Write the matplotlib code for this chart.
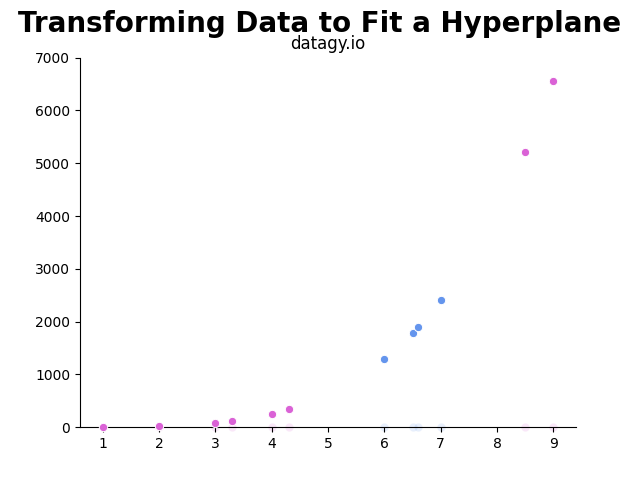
import numpy as np
import matplotlib.pyplot as plt

# class A (pink) and class B (blue)
x_a = [1, 2, 3, 3.3, 4, 4.3, 8.5, 9]
y_a = [1, 16, 81, 118.6, 256, 341.9, 5220.1, 6561]
x_b = [6, 6.5, 6.6, 7]
y_b = [1296, 1785.1, 1897.5, 2401]
# original positions before transform
orig_a = [0, 0, 0, 0, 0, 0, 0, 0]
orig_b = [0, 0, 0, 0]

pink = '#DA62D6'
blue = '#6495ED'

fig, ax = plt.subplots(figsize=(6.4, 4.8))

ax.scatter(x_a, orig_a, s=36, color=pink, alpha=0.15, edgecolor='white', lw=0.7, clip_on=False)
ax.scatter(x_b, orig_b, s=36, color=blue, alpha=0.15, edgecolor='white', lw=0.7, clip_on=False)
ax.scatter(x_a, y_a, s=36, color=pink, edgecolor='white', lw=0.7, clip_on=False, zorder=3)
ax.scatter(x_b, y_b, s=36, color=blue, edgecolor='white', lw=0.7, clip_on=False, zorder=3)

ax.set_ylim(0, 7000)
ax.set_xticks(np.arange(1, 10))
ax.spines['top'].set_visible(False)
ax.spines['right'].set_visible(False)

fig.suptitle('Transforming Data to Fit a Hyperplane', fontsize=20, fontweight='bold')
ax.set_title('datagy.io')

plt.savefig('out.png', dpi=100)
